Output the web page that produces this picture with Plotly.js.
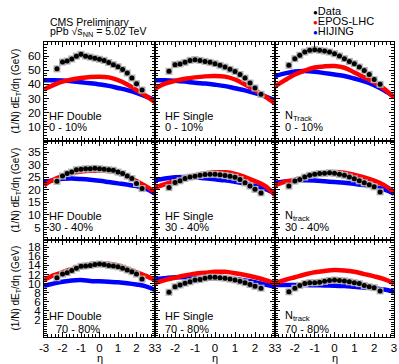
<!DOCTYPE html>
<html><head><meta charset="utf-8">
<script src="https://cdn.plot.ly/plotly-3.0.1.min.js"></script>
<style>html,body{margin:0;padding:0;background:#fff}#chart{width:399px;height:364px}</style>
</head><body><div id="chart"></div>
<script>
// pseudorapidity positions
const etaData  = [-2.3,-2.0,-1.75,-1.5,-1.25,-1.0,-0.75,-0.5,-0.25,0,0.25,0.5,0.75,1.0,1.25,1.5,1.75,2.0,2.3];
const etaModel = [-3,-2.5,-2,-1.5,-1,-0.5,0,0.5,1,1.5,2,2.5,3];

// Row 1: 0 - 10%
const dataHFD_0_10   = [51,55.8,56.5,58,60,61.3,60,59.3,58.5,57.8,57,55.5,54,52.5,50.5,48,44.5,40.5,36];
const eposHFD_0_10   = [36.5,39.5,42,43.5,44.5,45.2,45.5,45,43,40,36,32,27.5];
const hijingHFD_0_10 = [43,43,42.8,42.2,41.5,40.8,40,39,37.5,36,34,31.5,29];
const dataHFS_0_10   = [49.3,54,54.5,55.6,57,57.5,57,56.3,55.6,54.7,53.5,52.3,50.7,49.2,47,44.5,41,37.5,33];
const eposHFS_0_10   = [37,40.5,42.5,44,45,45.7,46,45.5,43.5,40,36,31.5,26.5];
const hijingHFS_0_10 = [43,43,42.6,42,41.2,40.6,39.8,38.8,37.3,35.8,33.8,31.5,28.9];
const dataNT_0_10    = [53.5,58.2,60.6,62.9,64.1,64.6,64.1,63.6,62.9,61.7,60.1,58.2,56.3,54.7,52.3,49.9,47.1,43.4,40.1];
const eposNT_0_10    = [38.5,43,47,49.8,52,52.8,53,51.8,48.5,45,41.5,37,30.8];
const hijingNT_0_10  = [45.8,47.8,49.2,49.5,49,48,47,46,44.2,42.2,39.5,35.8,31.2];

// Row 2: 30 - 40%
const dataHFD_30_40   = [23.4,25.5,26.5,27.1,28,28.2,28.4,28.4,28.6,28.4,28.2,28,27.8,27.1,26.5,25.5,24.5,22.5,20.5];
const eposHFD_30_40   = [21.8,24,25.5,26.7,27.3,27.6,27.7,27.5,26.8,25.5,23.5,21.5,19.2];
const hijingHFD_30_40 = [23.1,23.9,24.4,24.5,24.3,24,23.6,23.1,22.6,22.1,21.5,20.5,18.5];
const dataHFS_30_40   = [20.9,22.9,23.6,24.5,25.1,25.4,25.8,26.1,26.2,26.2,26,25.7,25.4,25,24.1,22.8,21.5,20.2,18.8];
const eposHFS_30_40   = [20.9,22.3,23.6,24.8,25.8,26.6,27,27,26.4,25.1,23.5,21.6,17.9];
const hijingHFS_30_40 = [23.8,24.5,25,25.1,25,24.6,24.2,23.8,23.2,22.5,21.6,20.4,18.5];
const dataNT_30_40    = [21.5,23.5,24.1,25.1,25.8,26.2,26.5,26.6,26.8,26.6,26.2,25.8,25.1,24.4,23.6,22.8,22,21.2,19.2];
const eposNT_30_40    = [21.8,23.2,24,25.2,26.3,26.9,27.1,26.8,26,25,23.7,21.9,19.2];
const hijingNT_30_40  = [22.8,23.3,23.6,23.8,23.7,23.4,23.1,22.8,22.4,21.9,21.2,20.2,18.5];

// Row 3: 70 - 80%
const dataHFD_70_80   = [11.3,12.1,12.4,12.9,13.4,13.8,13.9,14,14.2,14.3,14.2,14,13.9,13.7,13.4,13,12.6,12.1,11];
const eposHFD_70_80   = [10.8,11.8,12.5,13.2,13.8,14.3,14.5,14.4,14,13.3,12.5,11.7,10.8];
const hijingHFD_70_80 = [9.5,10,10.4,10.7,10.8,10.6,10.5,10.4,10.3,10.1,9.8,9.4,8.6];
const dataHFS_70_80   = [8.1,9.3,9.7,10.1,10.4,10.8,10.9,11.2,11.4,11.4,11.3,11.2,11,10.8,10.5,10.2,9.8,9.4,9];
const eposHFS_70_80   = [10.1,10.8,11.3,11.8,12.2,12.4,12.6,12.6,12.3,11.9,11.4,10.8,10.1];
const hijingHFS_70_80 = [11,11.2,11.4,11.4,11.3,11.2,11.2,11.1,11,10.7,10.3,9.8,9.3];
const dataNT_70_80    = [8.2,9,9.6,10,10.2,10.2,10.3,10.5,10.7,10.8,10.7,10.6,10.4,10.2,10,9.6,9.3,9.1,8.4];
const eposNT_70_80    = [10.1,10.8,11.4,12,12.5,12.8,13,12.9,12.6,12.1,11.6,11,10.1];
const hijingNT_70_80  = [9.7,9.7,9.7,9.7,9.65,9.6,9.55,9.45,9.3,9.15,9,8.7,8.2];

const xTickVals = [-3,-2,-1,0,1,2,3];
// tick labels per column (junction labels read "33" in the reference)
const xTickTextCols = [
  ['-3','-2','-1','0','1','2','33'],
  ['','-2','-1','0','1','2','33'],
  ['','-2','-1','0','1','2','3']
];
const rowYTicks = [[10,20,30,40,50,60],[5,10,15,20,25,30,35],[2,4,6,8,10,12,14,16,18]];
const rowRanges = [[0,70],[0,39.5],[-1.75,19.6]];
const rowMinor  = [2,1,0.5];
const methodNames = ['HF Double','HF Single','N<sub>Track</sub>','N<sub>track</sub>'];
const centralities = ['0 - 10%','30 - 40%','70 - 80%'];

const panels = [
  [dataHFD_0_10,eposHFD_0_10,hijingHFD_0_10],[dataHFS_0_10,eposHFS_0_10,hijingHFS_0_10],[dataNT_0_10,eposNT_0_10,hijingNT_0_10],
  [dataHFD_30_40,eposHFD_30_40,hijingHFD_30_40],[dataHFS_30_40,eposHFS_30_40,hijingHFS_30_40],[dataNT_30_40,eposNT_30_40,hijingNT_30_40],
  [dataHFD_70_80,eposHFD_70_80,hijingHFD_70_80],[dataHFS_70_80,eposHFS_70_80,hijingHFS_70_80],[dataNT_70_80,eposNT_70_80,hijingNT_70_80]
];

const W = 399, H = 364;
const colPx = [[44,155],[155,275],[275,394]];
const rowPx = [[42,141],[141,240],[240,337]];
const FONT = 'Liberation Sans, Arial, sans-serif';

const traces = [];
const layout = {
  width: W, height: H, margin:{l:0,r:0,t:0,b:0},
  paper_bgcolor:'#fff', plot_bgcolor:'#fff', showlegend:false,
  font:{family:FONT, size:11, color:'#000'},
  annotations: []
};

panels.forEach((p,i)=>{
  const r = Math.floor(i/3), c = i%3, n = i+1;
  const xa = 'x'+(n===1?'':n), ya = 'y'+(n===1?'':n);
  const [dat, epos, hij] = p;
  traces.push({x:etaModel, y:hij, xaxis:xa, yaxis:ya, mode:'lines', line:{color:'#0000ff', width:4.5, shape:'spline'}, hoverinfo:'skip'});
  traces.push({x:etaModel, y:epos, xaxis:xa, yaxis:ya, mode:'lines', line:{color:'#ff0000', width:4.5, shape:'spline'}, hoverinfo:'skip'});
  traces.push({x:etaData, y:dat, xaxis:xa, yaxis:ya, mode:'markers', marker:{symbol:'square', size:7, color:'#b0b0b0'}, hoverinfo:'skip'});
  traces.push({x:etaData, y:dat, xaxis:xa, yaxis:ya, mode:'markers', marker:{symbol:'circle', size:5, color:'#000'}, hoverinfo:'skip'});

  const common = {showline:true, linecolor:'#000', linewidth:1, mirror:'allticks', ticks:'inside', ticklen:5, tickcolor:'#000', tickwidth:1, showgrid:false, zeroline:false, fixedrange:true};
  layout['xaxis'+(n===1?'':n)] = Object.assign({}, common, {
    domain:[colPx[c][0]/W, colPx[c][1]/W], anchor:ya, range:[-3,3],
    tickvals:xTickVals, ticktext:xTickTextCols[c], showticklabels:(r===2),
    tickfont:{size:11.5, family:FONT},
    minor:{dtick:0.2, ticklen:3, ticks:'inside', tickcolor:'#000'}
  });
  layout['yaxis'+(n===1?'':n)] = Object.assign({}, common, {
    domain:[1-rowPx[r][1]/H, 1-rowPx[r][0]/H], anchor:xa, range:rowRanges[r],
    tickvals:rowYTicks[r], showticklabels:(c===0),
    tickfont:{size:11.5, family:FONT},
    minor:{dtick:rowMinor[r], ticklen:3, ticks:'inside', tickcolor:'#000'}
  });

  // panel labels
  const nameIdx = c===2 ? (r===0?2:3) : c;
  const xoff = c===0 ? 3 : 8;
  const yA = [[116,127],[216,227],[316,329]][r];
  layout.annotations.push({xref:'paper', yref:'paper', x:(colPx[c][0]+xoff)/W, y:1-yA[0]/H, xanchor:'left', yanchor:'middle', text:methodNames[nameIdx], showarrow:false, font:{size:11,family:FONT}});
  const cx = (r===2 && c===0) ? 54 : colPx[c][0]+xoff;
  layout.annotations.push({xref:'paper', yref:'paper', x:cx/W, y:1-yA[1]/H, xanchor:'left', yanchor:'middle', text:centralities[r], showarrow:false, font:{size:11,family:FONT}});
});

// y titles
rowPx.forEach(rp=>{
  layout.annotations.push({xref:'paper', yref:'paper', x:15/W, y:1-((rp[0]+rp[1])/2)/H, xanchor:'center', yanchor:'middle', textangle:-90, text:'(1/N) dE<sub>T</sub>/dη (GeV)', showarrow:false, font:{size:10,family:FONT}});
});
// x titles
colPx.forEach(cp=>{
  layout.annotations.push({xref:'paper', yref:'paper', x:((cp[0]+cp[1])/2)/W, y:1-358/H, xanchor:'center', yanchor:'middle', text:'η', showarrow:false, font:{size:11,family:FONT}});
});
// header
layout.annotations.push({xref:'paper', yref:'paper', x:48/W, y:1-22/H, xanchor:'left', yanchor:'middle', text:'CMS Preliminary', showarrow:false, font:{size:10.5,family:FONT}});
layout.annotations.push({xref:'paper', yref:'paper', x:48/W, y:1-32/H, xanchor:'left', yanchor:'middle', text:'pPb √s<sub>NN</sub> = 5.02 TeV', showarrow:false, font:{size:10.5,family:FONT}});
// legend
const legendItems = [['Data','#000',11],['EPOS-LHC','#ff0000',21],['HIJING','#0000ff',31]];
legendItems.forEach(([t,col,yy])=>{
  layout.annotations.push({xref:'paper', yref:'paper', x:311/W, y:1-yy/H, xanchor:'left', yanchor:'middle', text:'<span style="color:'+col+';font-size:8px">●</span>'+t, showarrow:false, font:{size:11,family:FONT}});
});

Plotly.newPlot('chart', traces, layout, {staticPlot:true, displayModeBar:false});
</script>
</body></html>
